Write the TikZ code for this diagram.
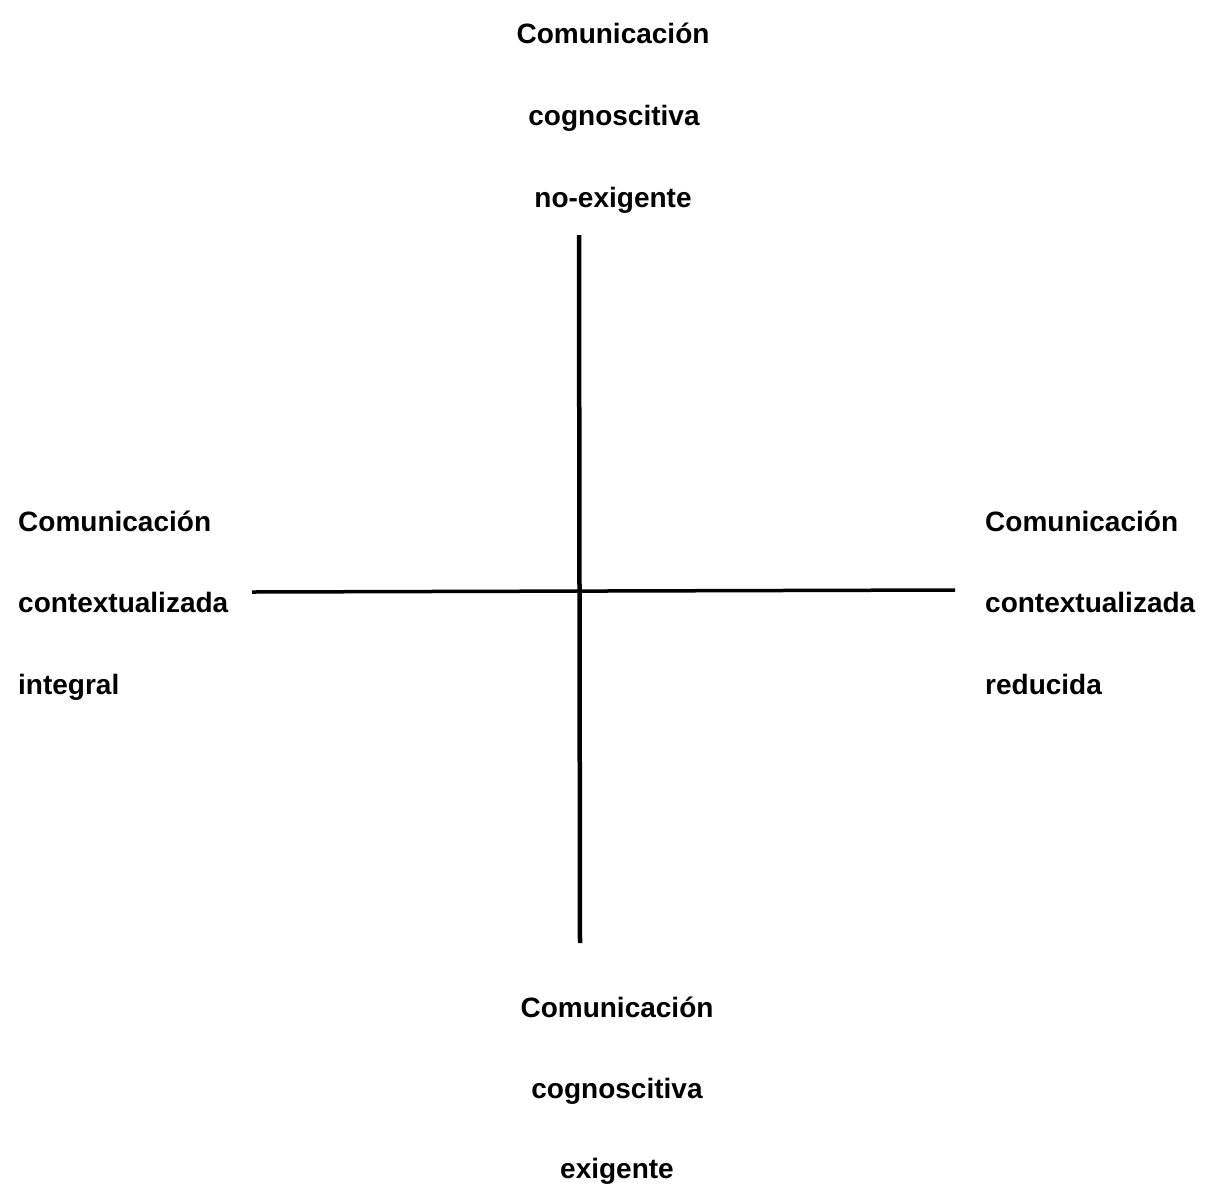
\documentclass[tikz,border=0pt]{standalone}
\usepackage{fontspec}
\setmainfont{Liberation Sans}
\begin{document}
\begin{tikzpicture}[x=1pt,y=-1pt,
  lbl/.style={font=\bfseries\fontsize{28}{31}\selectfont, inner sep=0pt},
  vaxis/.style={line width=4.5pt, black},
  haxis/.style={line width=3.5pt, black}]
\useasboundingbox (0,0) rectangle (1205,1187);
% top
\node[lbl, anchor=base] (t1) at (613,43) {Comunicación};
\node[lbl, anchor=base] (t2) at (614,125) {cognoscitiva};
\node[lbl, anchor=base] (t3) at (613,207) {no-exigente};
% left
\node[lbl, anchor=base west] (l1) at (18,531) {Comunicación};
\node[lbl, anchor=base west] (l2) at (18,612) {contextualizada};
\node[lbl, anchor=base west] (l3) at (18,694) {integral};
% right
\node[lbl, anchor=base west] (r1) at (985,531) {Comunicación};
\node[lbl, anchor=base west] (r2) at (985,612) {contextualizada};
\node[lbl, anchor=base west] (r3) at (985,694) {reducida};
% bottom
\node[lbl, anchor=base] (b1) at (617,1017) {Comunicación};
\node[lbl, anchor=base] (b2) at (617,1098) {cognoscitiva};
\node[lbl, anchor=base] (b3) at (617,1178) {exigente};
% axes
\coordinate (vt) at (579,235);
\coordinate (vb) at (580,943);
\coordinate (hl) at (252,592);
\coordinate (hr) at (955,590);
\draw[vaxis] (vt) -- (vb);
\draw[haxis] (hl) -- (hr);
\end{tikzpicture}
\end{document}
